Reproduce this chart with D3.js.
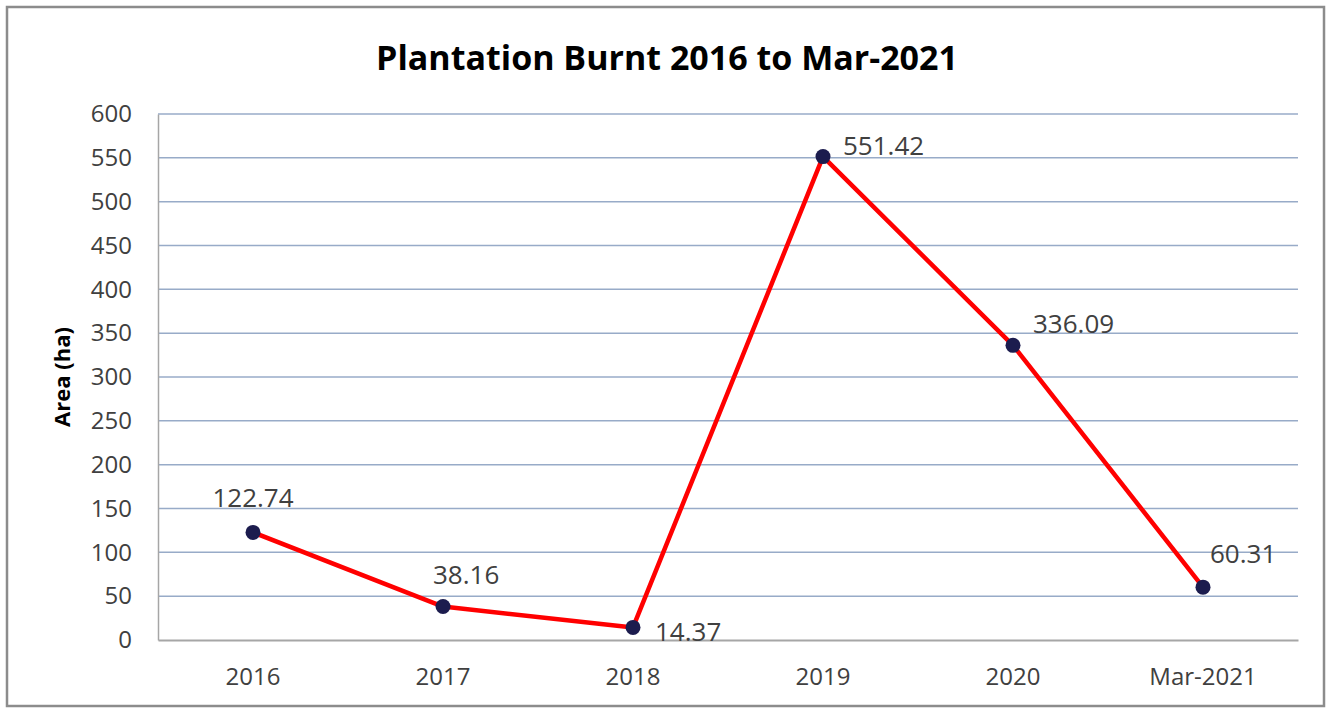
<!DOCTYPE html>
<html>
<head>
<meta charset="utf-8">
<script src="https://cdn.jsdelivr.net/npm/d3@7"></script>
<style>
  body { margin: 0; background: #fff; }
  text { font-family: "Open Sans", "Noto Sans", sans-serif; }
</style>
</head>
<body>
<svg id="chart" width="1329" height="711"></svg>
<script>
const categories = ["2016", "2017", "2018", "2019", "2020", "Mar-2021"];
const areaBurnt = [122.74, 38.16, 14.37, 551.42, 336.09, 60.31];
const yTicks = [0, 50, 100, 150, 200, 250, 300, 350, 400, 450, 500, 550, 600];

const width = 1329;
const height = 711;
const margin = { top: 114, right: 31, bottom: 71, left: 158 };

const svg = d3.select("#chart");

// outer frame
svg.append("rect")
  .attr("x", 7).attr("y", 7)
  .attr("width", width - 12).attr("height", height - 12)
  .attr("fill", "#fff")
  .attr("stroke", "#8c8c8c")
  .attr("stroke-width", 2.5);

const x = d3.scaleBand()
  .domain(categories)
  .range([margin.left, width - margin.right]);

const y = d3.scaleLinear()
  .domain([0, 600])
  .range([height - margin.bottom, margin.top]);

// gridlines
svg.append("g")
  .selectAll("line")
  .data(yTicks.filter(d => d > 0))
  .join("line")
  .attr("x1", margin.left).attr("x2", width - margin.right)
  .attr("y1", d => y(d)).attr("y2", d => y(d))
  .attr("stroke", "#98abc8")
  .attr("stroke-width", 1.5);

// y axis
const yAxis = svg.append("g")
  .attr("transform", `translate(${margin.left},0)`)
  .call(d3.axisLeft(y).tickValues(yTicks).tickSize(0).tickPadding(26));
yAxis.select(".domain").attr("stroke", "#a6a6a6").attr("stroke-width", 1.5);
yAxis.selectAll("text")
  .attr("font-size", 24)
  .attr("fill", "#404040")
  .style("font-family", "'Open Sans', sans-serif");

// x axis
const xAxis = svg.append("g")
  .attr("transform", `translate(0,${height - margin.bottom})`)
  .call(d3.axisBottom(x).tickSize(0).tickPadding(28));
xAxis.select(".domain").attr("stroke", "#a6a6a6").attr("stroke-width", 2);
xAxis.selectAll("text")
  .attr("font-size", 24)
  .attr("fill", "#404040")
  .style("font-family", "'Open Sans', sans-serif");

// title
svg.append("text")
  .attr("x", 667).attr("y", 70)
  .attr("text-anchor", "middle")
  .attr("font-size", 34)
  .attr("font-weight", "bold")
  .attr("fill", "#000")
  .text("Plantation Burnt 2016 to Mar-2021");

// y axis title
svg.append("text")
  .attr("transform", `translate(70,${(margin.top + height - margin.bottom) / 2}) rotate(-90)`)
  .attr("text-anchor", "middle")
  .attr("font-size", 22)
  .attr("font-weight", "bold")
  .attr("fill", "#000")
  .text("Area (ha)");

const cx = d => x(d) + x.bandwidth() / 2;

const line = d3.line()
  .x((d, i) => cx(categories[i]))
  .y(d => y(d));

svg.append("path")
  .datum(areaBurnt)
  .attr("d", line)
  .attr("fill", "none")
  .attr("stroke", "#ff0000")
  .attr("stroke-width", 4.5)
  .attr("stroke-linejoin", "round");

svg.append("g")
  .selectAll("circle")
  .data(areaBurnt)
  .join("circle")
  .attr("cx", (d, i) => cx(categories[i]))
  .attr("cy", d => y(d))
  .attr("r", 7.5)
  .attr("fill", "#1c1c4e");

// data label offsets (dx, dy) relative to the point
const labelOffsets = [[0, -25], [-10, -23], [22, 14], [20, -2], [20, -12], [7, -24]];

svg.append("g")
  .selectAll("text")
  .data(areaBurnt)
  .join("text")
  .attr("x", (d, i) => cx(categories[i]) + labelOffsets[i][0])
  .attr("y", (d, i) => y(d) + labelOffsets[i][1])
  .attr("text-anchor", (d, i) => i === 0 ? "middle" : "start")
  .attr("font-size", 26)
  .attr("fill", "#404040")
  .text(d => d.toFixed(2));
</script>
</body>
</html>
